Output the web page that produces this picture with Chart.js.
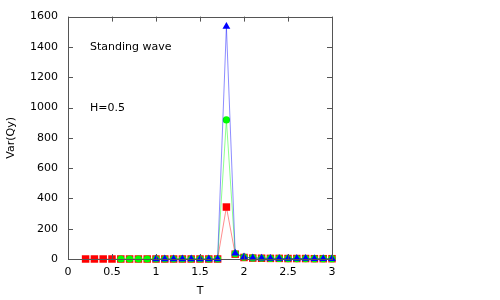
<!DOCTYPE html>
<html>
<head>
<meta charset="UTF-8">
<script src="https://cdn.jsdelivr.net/npm/chart.js"></script>
<style>
  html, body { margin: 0; padding: 0; background: #fff; }
  #wrap { width: 500px; height: 300px; }
</style>
</head>
<body>
<div id="wrap"><canvas id="c" width="500" height="300"></canvas></div>
<script>
// T values for each series
const tRed = [0.2, 0.3, 0.4, 0.5, 0.6, 0.7, 0.8, 0.9, 1.0, 1.1, 1.2, 1.3, 1.4, 1.5, 1.6, 1.7,
              1.8, 1.9, 2.0, 2.1, 2.2, 2.3, 2.4, 2.5, 2.6, 2.7, 2.8, 2.9, 3.0];
const varRed = [0, 0, 0, 0, 0, 0, 0, 0, 0, 0, 0, 0, 0, 0, 0, 0,
                343, 32, 10, 6, 5, 4, 4, 3, 3, 3, 2, 2, 2];

const tGreen = [0.6, 0.7, 0.8, 0.9, 1.0, 1.1, 1.2, 1.3, 1.4, 1.5, 1.6, 1.7,
                1.8, 1.9, 2.0, 2.1, 2.2, 2.3, 2.4, 2.5, 2.6, 2.7, 2.8, 2.9, 3.0];
const varGreen = [0, 0, 0, 0, 0, 0, 0, 0, 0, 0, 0, 0,
                  918, 35, 12, 7, 5, 4, 4, 3, 3, 3, 2, 2, 2];

const tBlue = [1.0, 1.1, 1.2, 1.3, 1.4, 1.5, 1.6, 1.7,
               1.8, 1.9, 2.0, 2.1, 2.2, 2.3, 2.4, 2.5, 2.6, 2.7, 2.8, 2.9, 3.0];
const varBlue = [0, 0, 0, 0, 0, 0, 0, 0,
                 1535, 38, 13, 7, 5, 4, 4, 3, 3, 3, 2, 2, 2];

const xTicks = [0, 0.5, 1, 1.5, 2, 2.5, 3];
const yTicks = [0, 200, 400, 600, 800, 1000, 1200, 1400, 1600];

const labels = [
  { text: 'Standing wave', x: 0.25, y: 1377 },
  { text: 'H=0.5', x: 0.25, y: 977 }
];

const FONT = 'DejaVu Sans';
const AXIS = '#555';

function pts(xs, ys) {
  return xs.map((x, i) => ({ x: x, y: ys[i] }));
}

// gnuplot style frame: box + inward ticks, plus the text labels
const framePlugin = {
  id: 'frame',
  afterDatasetsDraw(chart) {
    const ctx = chart.ctx;
    const a = chart.chartArea;
    const xs = chart.scales.x, ys = chart.scales.y;
    ctx.save();
    ctx.strokeStyle = AXIS;
    ctx.lineWidth = 1;
    ctx.beginPath();
    xTicks.forEach(v => {
      const px = Math.round(xs.getPixelForValue(v)) + 0.5;
      ctx.moveTo(px, a.bottom); ctx.lineTo(px, a.bottom - 5);
      ctx.moveTo(px, a.top); ctx.lineTo(px, a.top + 5);
    });
    yTicks.forEach(v => {
      const py = Math.round(ys.getPixelForValue(v)) + 0.5;
      ctx.moveTo(a.left, py); ctx.lineTo(a.left + 5, py);
      ctx.moveTo(a.right, py); ctx.lineTo(a.right - 5, py);
    });
    ctx.stroke();
    ctx.strokeRect(Math.round(a.left) + 0.5, Math.round(a.top) + 0.5,
                   Math.round(a.right - a.left), Math.round(a.bottom - a.top));
    ctx.fillStyle = '#000';
    ctx.font = '11px "' + FONT + '"';
    ctx.textBaseline = 'alphabetic';
    labels.forEach(l => {
      ctx.fillText(l.text, xs.getPixelForValue(l.x), ys.getPixelForValue(l.y));
    });
    ctx.restore();
  }
};

const ctx = document.getElementById('c').getContext('2d');
new Chart(ctx, {
  type: 'scatter',
  data: {
    datasets: [
      {
        data: pts(tRed, varRed), showLine: true, order: 2,
        borderColor: 'rgba(255,0,0,0.45)', borderWidth: 1,
        backgroundColor: '#ff0000', pointStyle: 'rect',
        pointRadius: 5.3, pointBorderWidth: 0, clip: false
      },
      {
        data: pts(tGreen, varGreen), showLine: true, order: 1,
        borderColor: 'rgba(0,255,0,0.45)', borderWidth: 1,
        backgroundColor: '#00ff00', pointStyle: 'circle',
        pointRadius: 3.6, pointBorderWidth: 0, clip: false
      },
      {
        data: pts(tBlue, varBlue), showLine: true, order: 0,
        borderColor: 'rgba(0,0,255,0.45)', borderWidth: 1,
        backgroundColor: '#0000ff', pointStyle: 'triangle',
        pointRadius: 4.5, pointBorderWidth: 0, clip: false
      }
    ]
  },
  options: {
    responsive: false,
    animation: false,
    layout: { padding: { top: 15, right: 168, left: 0, bottom: 0 } },
    plugins: { legend: { display: false }, tooltip: { enabled: false } },
    scales: {
      x: {
        type: 'linear', min: 0, max: 3,
        afterFit: s => { s.height = 41; },
        afterBuildTicks: s => { s.ticks = xTicks.map(v => ({ value: v })); },
        grid: { display: false, drawTicks: false },
        border: { display: false },
        ticks: { color: '#000', font: { family: FONT, size: 11 }, padding: 7, maxRotation: 0,
                 callback: v => String(v) },
        title: { display: true, text: 'T', color: '#000', font: { family: FONT, size: 11 }, padding: { top: 0, bottom: 2 } }
      },
      y: {
        type: 'linear', min: 0, max: 1600,
        afterFit: s => { s.width = 68; },
        afterBuildTicks: s => { s.ticks = yTicks.map(v => ({ value: v })); },
        grid: { display: false, drawTicks: false },
        border: { display: false },
        ticks: { color: '#000', font: { family: FONT, size: 11 }, padding: 10,
                 callback: v => String(v) },
        title: { display: true, text: 'Var(Qy)', color: '#000', font: { family: FONT, size: 11 }, padding: { top: 5, bottom: 0 } }
      }
    }
  },
  plugins: [framePlugin]
});
</script>
</body>
</html>
